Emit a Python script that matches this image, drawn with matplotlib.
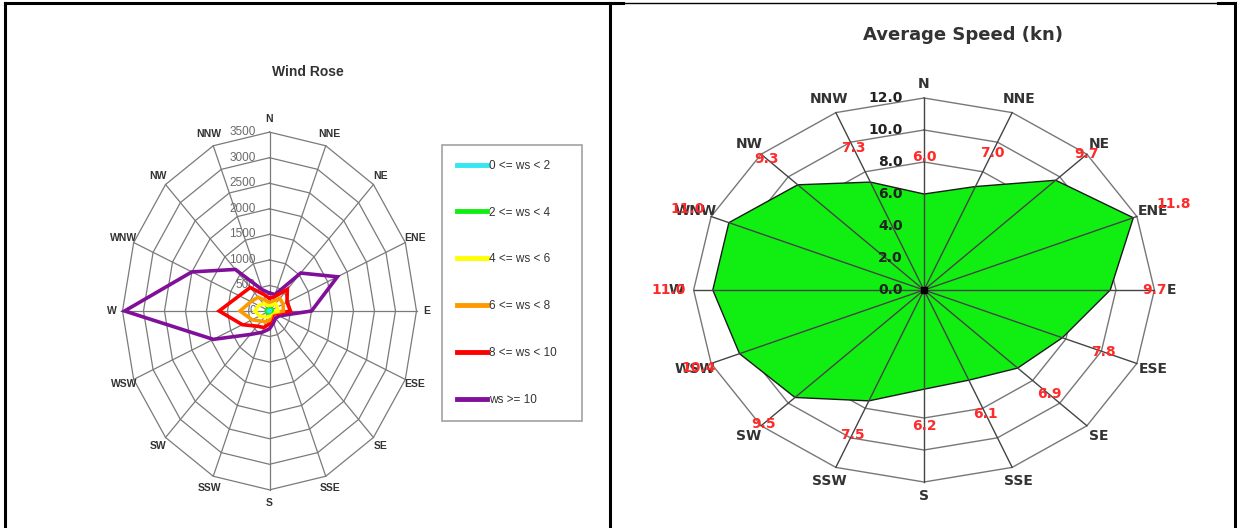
import numpy as np
import matplotlib
matplotlib.use("Agg")
import matplotlib.pyplot as plt
from matplotlib.lines import Line2D

# ---------------- data ----------------
directions = ["N", "NNE", "NE", "ENE", "E", "ESE", "SE", "SSE",
              "S", "SSW", "SW", "WSW", "W", "WNW", "NW", "NNW"]

# Wind rose (cumulative counts per speed class, as drawn)
ws_labels = ["0 <= ws < 2", "2 <= ws < 4", "4 <= ws < 6",
             "6 <= ws < 8", "8 <= ws < 10", "ws >= 10"]
ws_0_2 = [10, 12, 18, 20, 18, 10, 8, 10, 12, 14, 16, 20, 25, 22, 16, 12]
ws_2_4 = [30, 40, 60, 70, 60, 30, 25, 30, 35, 40, 50, 60, 80, 70, 50, 35]
ws_4_6 = [100, 120, 200, 200, 200, 60, 50, 60, 100, 130, 160, 250, 350, 280, 200, 120]
ws_6_8 = [150, 200, 350, 350, 330, 100, 80, 100, 180, 230, 280, 450, 700, 480, 380, 220]
ws_8_10 = [250, 300, 600, 450, 500, 150, 100, 150, 250, 350, 420, 700, 1200, 780, 650, 350]
ws_10p = [350, 350, 1050, 1750, 1000, 250, 200, 250, 350, 450, 650, 1450, 3450, 2000, 1150, 450]
rose_ticks = [0, 500, 1000, 1500, 2000, 2500, 3000, 3500]

# Average speed (kn)
avg_speed = [6.0, 7.0, 9.7, 11.8, 9.7, 7.8, 6.9, 6.1,
             6.2, 7.5, 9.5, 10.4, 11.0, 11.0, 9.3, 7.3]
speed_ticks = [0.0, 2.0, 4.0, 6.0, 8.0, 10.0, 12.0]

# --------------- helpers ---------------
theta = np.deg2rad(np.arange(len(directions)) * 360.0 / len(directions))


def to_xy(r):
    r = np.asarray(r, dtype=float)
    x = r * np.sin(theta)
    y = r * np.cos(theta)
    return np.append(x, x[0]), np.append(y, y[0])


W, H = 1237, 528
fig = plt.figure(figsize=(W / 100, H / 100), dpi=100)
fig.patch.set_facecolor("white")

# ---------------- Left: Wind Rose ----------------
sx_l, sy_l = 0.042, 0.0511
cx_l, cy_l = 269.5, H - 311
lim_l = 4200
wl, hl = 2 * lim_l * sx_l, 2 * lim_l * sy_l
axl = fig.add_axes([(cx_l - wl / 2) / W, (cy_l - hl / 2) / H, wl / W, hl / H])
axl.set_xlim(-lim_l, lim_l)
axl.set_ylim(-lim_l, lim_l)
axl.axis("off")

grid_c = "#7a7a7a"
for r in rose_ticks[1:]:
    gx, gy = to_xy([r] * len(directions))
    axl.plot(gx, gy, color=grid_c, lw=0.9, zorder=1)
for t in theta:
    axl.plot([0, rose_ticks[-1] * np.sin(t)], [0, rose_ticks[-1] * np.cos(t)],
             color=grid_c, lw=0.9, zorder=1)

for r in rose_ticks:
    axl.text(-330, r, str(r), ha="right", va="center", fontsize=8.5,
             color="#6a6a6a", family="Liberation Sans", zorder=2)

series = [ws_0_2, ws_2_4, ws_4_6, ws_6_8, ws_8_10, ws_10p]
colors = ["#33e6f2", "#11ee11", "#ffff00", "#ff9900", "#ff0000", "#80109a"]
handles = []
for vals, c, lab in zip(series[::-1], colors[::-1], ws_labels[::-1]):
    px, py = to_xy(vals)
    axl.plot(px, py, color=c, lw=2.6, zorder=3, solid_joinstyle="miter")
for c, lab in zip(colors, ws_labels):
    handles.append(Line2D([], [], color=c, lw=3.5, label=lab))

for d, t in zip(directions, theta):
    axl.text(3750 * np.sin(t), 3750 * np.cos(t), d, ha="center", va="center",
             fontsize=7.5, fontweight="bold", color="#333333",
             family="Liberation Sans", clip_on=False)

fig.text(308 / W, 1 - 72 / H, "Wind Rose", ha="center", va="center",
         fontsize=10, fontweight="bold", color="#333333", family="Liberation Sans")

leg = fig.legend(handles=handles, loc="upper left",
                 bbox_to_anchor=(442 / W, 1 - 432 / H, 140 / W, 287 / H),
                 mode="expand", fontsize=8.5, labelspacing=2.95,
                 borderpad=1.25, handlelength=2.6, handletextpad=0.1,
                 borderaxespad=0, frameon=True, fancybox=False,
                 prop={"family": "Liberation Sans", "size": 8.5})
leg.get_frame().set_edgecolor("#8a8a8a")
leg.get_frame().set_linewidth(1.2)
for txt in leg.get_texts():
    txt.set_color("#333333")

# ---------------- Right: Average Speed ----------------
sx_r, sy_r = 19.2, 16.0
cx_r, cy_r = 924, H - 290
lim_r = 14
wr, hr = 2 * lim_r * sx_r, 2 * lim_r * sy_r
axr = fig.add_axes([(cx_r - wr / 2) / W, (cy_r - hr / 2) / H, wr / W, hr / H])
axr.set_xlim(-lim_r, lim_r)
axr.set_ylim(-lim_r, lim_r)
axr.axis("off")

for r in speed_ticks[1:]:
    gx, gy = to_xy([r] * len(directions))
    axr.plot(gx, gy, color="#777777", lw=1.0, zorder=1)

fx, fy = to_xy(avg_speed)
axr.fill(fx, fy, facecolor="#11ee11", edgecolor="#1a1a1a", lw=1.0, zorder=2)

for t in theta:
    axr.plot([0, speed_ticks[-1] * np.sin(t)], [0, speed_ticks[-1] * np.cos(t)],
             color="#444444", lw=1.0, zorder=3)
axr.plot([0], [0], marker="s", ms=4, color="black", zorder=4)

for r in speed_ticks:
    axr.text(-1.1, r, f"{r:.1f}", ha="right", va="center", fontsize=10,
             fontweight="bold", color="#222222", zorder=5)

for d, t in zip(directions, theta):
    axr.text(12.9 * np.sin(t), 12.9 * np.cos(t), d, ha="center", va="center",
             fontsize=10, fontweight="bold", color="#333333", zorder=5)

for v, t in zip(avg_speed, theta):
    rr = v + 2.3
    axr.text(rr * np.sin(t), rr * np.cos(t), f"{v:.1f}", ha="center", va="center",
             fontsize=10, fontweight="bold", color="#ff2a2a", zorder=6)

fig.text(963 / W, 1 - 35 / H, "Average Speed (kn)", ha="center", va="center",
         fontsize=13, fontweight="bold", color="#333333")

# ---------------- table borders ----------------
def fline(x0, y0, x1, y1, lw):
    fig.add_artist(Line2D([x0 / W, x1 / W], [1 - y0 / H, 1 - y1 / H],
                          color="black", lw=lw, transform=fig.transFigure))

fline(5, 3, 623, 3, 2.2)
fline(623, 2.5, 1218, 2.5, 1.0)
fline(1218, 3, 1236, 3, 2.2)
fline(5, 3, 5, H, 2.2)
fline(610, 3, 610, H, 2.2)
fline(1235, 3, 1235, H, 2.2)

fig.savefig("out.png", dpi=100, facecolor="white")
